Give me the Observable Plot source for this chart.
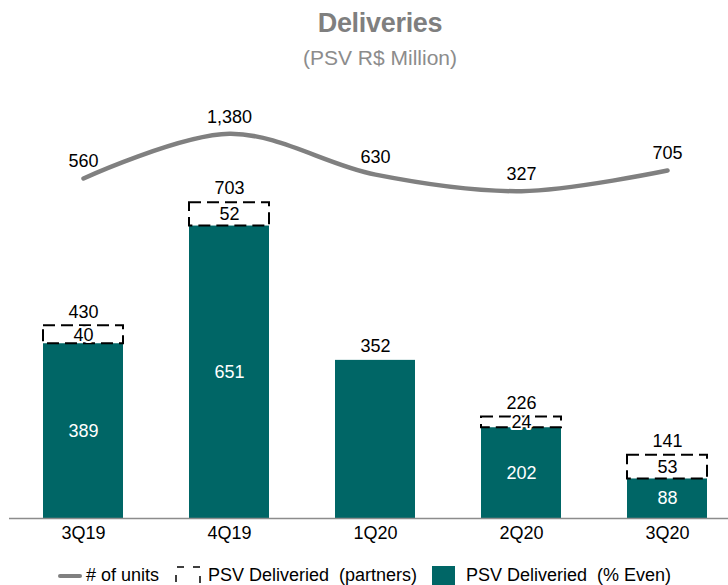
<!DOCTYPE html>
<html>
<head>
<meta charset="utf-8">
<script src="https://cdn.jsdelivr.net/npm/d3@7"></script>
<script src="https://cdn.jsdelivr.net/npm/@observablehq/plot@0.6"></script>
<style>
  html, body { margin: 0; padding: 0; background: #fff; }
  body { width: 728px; height: 585px; overflow: hidden; position: relative; font-family: "Liberation Sans", Arial, sans-serif; }
  #title { position: absolute; left: 0; width: 760px; top: 8px; text-align: center; color: #7f7f7f; font-size: 27px; font-weight: bold; letter-spacing: -0.3px; }
  #subtitle { position: absolute; left: 0; width: 760px; top: 46px; text-align: center; color: #8c8c8c; font-size: 21px; }
  #chart { position: absolute; left: 0; top: 80px; }
  #legend { position: absolute; left: 0; top: 545px; width: 728px; height: 40px; overflow: hidden; font-size: 18px; color: #000; }
  #legend .item { position: absolute; top: 20px; line-height: 20px; white-space: pre; }
</style>
</head>
<body>
<div id="title">Deliveries</div>
<div id="subtitle">(PSV R$ Million)</div>
<div id="chart"></div>
<div id="legend">
  <svg style="position:absolute;left:58px;top:28px" width="24" height="6"><line x1="2" y1="3" x2="22" y2="3" stroke="#808080" stroke-width="4" stroke-linecap="round"/></svg>
  <div class="item" style="left:86px"># of units</div>
  <svg style="position:absolute;left:174px;top:21px" width="30" height="24"><rect x="2" y="1" width="24" height="24" fill="none" stroke="#000" stroke-width="1.5" stroke-dasharray="7,9" stroke-dashoffset="-1"/></svg>
  <div class="item" style="left:208px">PSV Deliveried  (partners)</div>
  <div style="position:absolute;left:432px;top:21px;width:23px;height:22px;background:#006666"></div>
  <div class="item" style="left:466px">PSV Deliveried  (% Even)</div>
</div>
<script>
const quarters = ["3Q19", "4Q19", "1Q20", "2Q20", "3Q20"];
const evenValues = [389, 651, 352, 202, 88];
const partnerValues = [40, 52, 0, 24, 53];
const totalValues = [430, 703, 352, 226, 141];
const units = [560, 1380, 630, 327, 705];
const unitLabels = ["560", "1,380", "630", "327", "705"];

const rows = quarters.map((q, i) => ({
  q, even: evenValues[i], partners: partnerValues[i], total: totalValues[i],
  top: evenValues[i] + partnerValues[i], units: units[i], unitLabel: unitLabels[i]
}));
const partnerRows = rows.filter(d => d.partners > 0);

// secondary axis for # of units, mapped into the PSV scale
const unitsAxis = d3.scaleLinear().domain([0, 2000]).range([689, 931.6]);

const teal = "#006666";
const chart = Plot.plot({
  width: 728,
  height: 465,
  marginLeft: 9,
  marginRight: 0,
  marginTop: 0,
  marginBottom: 27,
  style: { fontFamily: "'Liberation Sans', Arial, sans-serif", fontSize: "18px", background: "transparent" },
  x: { domain: quarters, range: [42, 707], paddingInner: 0.454, paddingOuter: 0, axis: null, label: null },
  y: { domain: [0, 975], axis: null },
  marks: [
    Plot.barY(rows, { x: "q", y1: 0, y2: "even", fill: teal }),
    Plot.barY(partnerRows, { x: "q", y1: "even", y2: "top", fill: "none", stroke: "#000", strokeWidth: 2, strokeDasharray: "12,6" }),
    Plot.ruleY([0], { stroke: "#8c8c8c", strokeWidth: 1.5 }),
    Plot.axisX({ domain: quarters, tickSize: 0, tickPadding: 8, fontSize: 18, anchor: "bottom", label: null }),
    Plot.text(partnerRows, { x: "q", y: d => d.even / 2, text: d => String(d.even), fill: "#fff", fontSize: 18 }),
    Plot.text(partnerRows, { x: "q", y: d => d.even + d.partners / 2, text: d => String(d.partners), fill: "#000", stroke: "#fff", strokeWidth: 4, paintOrder: "stroke", fontSize: 18 }),
    Plot.text(rows, { x: "q", y: "top", text: d => String(d.total), dy: -14, fill: "#000", fontSize: 18 }),
    Plot.line(rows, { x: "q", y: d => unitsAxis(d.units), stroke: "#808080", strokeWidth: 4.5, curve: "cardinal", tension: 0, strokeLinecap: "round" }),
    Plot.text(rows, { x: "q", y: d => unitsAxis(d.units), text: "unitLabel", dy: -17, fill: "#000", fontSize: 18 })
  ]
});
document.getElementById("chart").appendChild(chart);
</script>
</body>
</html>
